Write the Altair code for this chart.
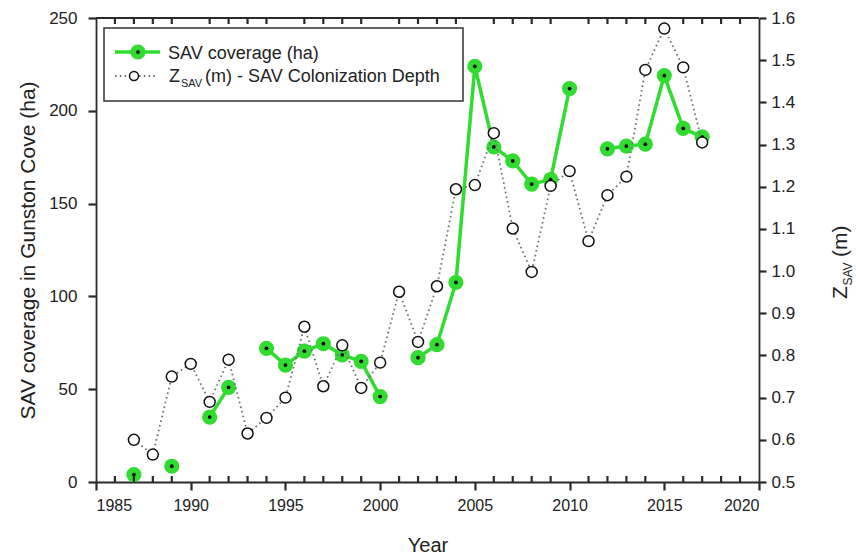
import altair as alt
import pandas as pd

# ---- data ----
sav_years = [1987, 1989, 1991, 1992, 1994, 1995, 1996, 1997, 1998, 1999, 2000,
             2002, 2003, 2004, 2005, 2006, 2007, 2008, 2009, 2010,
             2012, 2013, 2014, 2015, 2016, 2017]
sav_ha = [4, 8.5, 35, 51, 72, 63, 70.5, 74.5, 68.5, 65, 46,
          67, 74, 107.5, 224, 180.5, 173, 160.5, 163, 212,
          179.5, 181, 182, 219, 190.5, 186]

z_years = list(range(1987, 2018))
z_m = [0.60, 0.565, 0.75, 0.78, 0.69, 0.79, 0.615, 0.652, 0.70, 0.868,
       0.727, 0.824, 0.723, 0.783, 0.951, 0.832, 0.964, 1.194, 1.204, 1.327,
       1.101, 0.998, 1.202, 1.237, 1.071, 1.180, 1.224, 1.477, 1.575, 1.483, 1.305]

x_ticks = list(range(1985, 2021, 5))
minor_years = [y for y in range(1986, 2020) if y % 5 != 0]
left_ticks = [0, 50, 100, 150, 200, 250]
right_ticks = [round(0.5 + 0.1 * i, 1) for i in range(12)]

W, H = 663, 464
GREEN = "#2fdc2f"
FONT = "Liberation Sans"
TXT = "#222222"
AX = "#2a2a2a"

sav = pd.DataFrame({"year": sav_years, "sav": sav_ha})
sav["seg"] = (sav["year"].diff() != 1).cumsum()
zdf = pd.DataFrame({"year": z_years, "z": z_m})
minor = pd.DataFrame({"year": minor_years})
one = pd.DataFrame({"a": [0]})

axis_style = dict(ticks=True, tickColor=AX, tickWidth=2.2, domainColor=AX, domainWidth=1.8,
                  labelColor=TXT, titleColor=TXT, labelFont=FONT, titleFont=FONT,
                  titleFontWeight="normal", grid=False)

xenc = alt.X("year:Q",
             scale=alt.Scale(domain=[1985, 2020], nice=False, zero=False),
             axis=alt.Axis(values=x_ticks, format="d", title="Year",
                           tickSize=8, labelPadding=7, titlePadding=22,
                           labelFontSize=16, titleFontSize=20, **axis_style))

yleft = alt.Y("sav:Q",
              scale=alt.Scale(domain=[0, 250], nice=False),
              axis=alt.Axis(values=left_ticks, title="SAV coverage in Gunston Cove (ha)",
                            tickSize=8, labelPadding=11, titlePadding=10,
                            labelFontSize=17, titleFontSize=21, **axis_style))

yright = alt.Y("z:Q",
               scale=alt.Scale(domain=[0.5, 1.6], nice=False, zero=False),
               axis=alt.Axis(orient="right", values=right_ticks, format=".1f", title=None,
                             tickSize=7, labelPadding=5, labelFontSize=17, **axis_style))

base_sav = alt.Chart(sav)
green_line = base_sav.mark_line(color=GREEN, strokeWidth=3.5).encode(
    x=xenc, y=yleft, detail="seg:N")
green_pts = base_sav.mark_point(shape="circle", filled=True, color=GREEN, size=230, opacity=1).encode(
    x=xenc, y=yleft)
black_dots = base_sav.mark_point(shape="circle", filled=True, color="black", size=14, opacity=1).encode(
    x=xenc, y=yleft)
left_layer = alt.layer(green_line, green_pts, black_dots)

base_z = alt.Chart(zdf)
z_line = base_z.mark_line(color="#707070", strokeWidth=1.8, strokeDash=[1.6, 3.2]).encode(
    x=xenc, y=yright)
z_pts = base_z.mark_point(shape="circle", filled=False, fill="white", stroke="#111111",
                          strokeWidth=1.5, size=120, opacity=1).encode(x=xenc, y=yright)
right_layer = alt.layer(z_line, z_pts)

# minor year ticks (bottom and top, pointing inward) and top frame line
minor_bottom = alt.Chart(minor).mark_tick(color=AX, thickness=2.2, size=6, orient="vertical",
                                          opacity=1).encode(x=xenc, y=alt.value(H - 3))
minor_top = alt.Chart(minor).mark_tick(color=AX, thickness=2.2, size=6, orient="vertical",
                                       opacity=1).encode(x=xenc, y=alt.value(3))
ob = alt.Chart(one)
top_line = ob.mark_rule(color=AX, strokeWidth=1.8).encode(
    x=alt.value(0), x2=alt.value(W), y=alt.value(0))

# legend (custom, because of the subscript)
leg_box = ob.mark_rect(fill="white", stroke="#333333", strokeWidth=1.5).encode(
    x=alt.value(8), x2=alt.value(367), y=alt.value(10), y2=alt.value(83))
leg_gline = ob.mark_rule(color=GREEN, strokeWidth=3.5).encode(
    x=alt.value(19), x2=alt.value(64), y=alt.value(34))
leg_gpt = ob.mark_point(shape="circle", filled=True, color=GREEN, size=230, opacity=1).encode(
    x=alt.value(42), y=alt.value(34))
leg_bdot = ob.mark_point(shape="circle", filled=True, color="black", size=14, opacity=1).encode(
    x=alt.value(42), y=alt.value(34))
leg_zline = ob.mark_rule(color="#707070", strokeWidth=1.8, strokeDash=[1.6, 3.2]).encode(
    x=alt.value(19), x2=alt.value(62), y=alt.value(58))
leg_zpt = ob.mark_point(shape="circle", filled=False, fill="white", stroke="#111111",
                        strokeWidth=1.5, size=80, opacity=1).encode(
    x=alt.value(38), y=alt.value(58))
leg_t1 = ob.mark_text(align="left", baseline="alphabetic", fontSize=18, font=FONT, color=TXT).encode(
    x=alt.value(72), y=alt.value(41), text=alt.value("SAV coverage (ha)"))
leg_t2a = ob.mark_text(align="left", baseline="alphabetic", fontSize=18, font=FONT, color=TXT).encode(
    x=alt.value(73), y=alt.value(64), text=alt.value("Z"))
leg_t2b = ob.mark_text(align="left", baseline="alphabetic", fontSize=11, font=FONT, color=TXT).encode(
    x=alt.value(85), y=alt.value(69), text=alt.value("SAV"))
leg_t2c = ob.mark_text(align="left", baseline="alphabetic", fontSize=18, font=FONT, color=TXT).encode(
    x=alt.value(109), y=alt.value(64), text=alt.value("(m) - SAV Colonization Depth"))

# right axis title with subscript
RX, RY = 751, 281
rt_a = ob.mark_text(align="left", baseline="alphabetic", angle=270, fontSize=21, font=FONT, color=TXT).encode(
    x=alt.value(RX), y=alt.value(RY), text=alt.value("Z"))
rt_b = ob.mark_text(align="left", baseline="alphabetic", angle=270, fontSize=12, font=FONT, color=TXT,
                    dx=13.5, dy=5).encode(
    x=alt.value(RX), y=alt.value(RY), text=alt.value("SAV"))
rt_c = ob.mark_text(align="left", baseline="alphabetic", angle=270, fontSize=21, font=FONT, color=TXT,
                    dx=42).encode(
    x=alt.value(RX), y=alt.value(RY), text=alt.value("(m)"))

chart = alt.layer(
    left_layer, right_layer, minor_bottom, minor_top, top_line,
    leg_box, leg_gline, leg_gpt, leg_bdot, leg_zline, leg_zpt,
    leg_t1, leg_t2a, leg_t2b, leg_t2c, rt_a, rt_b, rt_c
).resolve_scale(y="independent").properties(
    width=W, height=H,
    autosize=alt.AutoSizeParams(type="none"),
    padding={"left": 96, "top": 18, "right": 97, "bottom": 76},
)

chart.save("out.html", embed_options={"renderer": "svg", "actions": False})
